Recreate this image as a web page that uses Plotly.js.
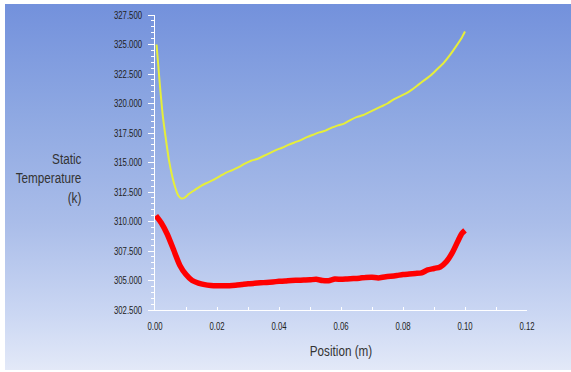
<!DOCTYPE html>
<html>
<head>
<meta charset="utf-8">
<script src="https://cdn.plot.ly/plotly-3.0.1.min.js"></script>
<style>
  html, body { margin: 0; padding: 0; background: #ffffff; }
  #wrap { position: relative; width: 571px; height: 372px; overflow: hidden; background: #ffffff; }
  #bg {
    position: absolute; left: 5px; top: 4px; width: 566px; height: 366px;
    background: linear-gradient(to bottom, #7391dc 0%, #8ea8e2 30%, #aabde9 60%, #cbd7f3 85%, #e3e9f8 100%);
  }
  #chart { position: absolute; left: 0; top: 0; width: 571px; height: 372px; }
</style>
</head>
<body>
<div id="wrap">
  <div id="bg"></div>
  <div id="chart"></div>
</div>
<script>
// Static temperature along the channel, two monitored lines
const positionUpper = [0.0005, 0.0015, 0.0025, 0.0035, 0.0045, 0.0055, 0.0065, 0.0075, 0.0085, 0.0095,
  0.011, 0.013, 0.015, 0.017, 0.019, 0.021, 0.023, 0.025, 0.027, 0.029,
  0.031, 0.033, 0.035, 0.037, 0.039, 0.041, 0.043, 0.045, 0.047, 0.049,
  0.051, 0.053, 0.055, 0.057, 0.059, 0.061, 0.063, 0.065, 0.067, 0.069,
  0.071, 0.073, 0.075, 0.077, 0.079, 0.081, 0.083, 0.085, 0.087, 0.089,
  0.091, 0.093, 0.095, 0.097, 0.099, 0.100];
const tempUpper = [325.0, 321.8, 319.0, 317.0, 315.2, 313.9, 312.9, 312.2, 311.95, 312.0,
  312.35, 312.7, 313.05, 313.3, 313.55, 313.85, 314.15, 314.35, 314.6, 314.9,
  315.15, 315.3, 315.55, 315.8, 316.05, 316.25, 316.5, 316.7, 316.9, 317.15,
  317.35, 317.55, 317.7, 317.95, 318.15, 318.3, 318.6, 318.85, 319.0, 319.25,
  319.5, 319.75, 320.0, 320.35, 320.6, 320.85, 321.2, 321.6, 322.0, 322.4,
  322.9, 323.4, 324.05, 324.8, 325.6, 326.1];

const positionLower = [0.0003, 0.002, 0.004, 0.006, 0.008, 0.010, 0.012, 0.014, 0.016, 0.018,
  0.020, 0.022, 0.024, 0.026, 0.028, 0.030, 0.032, 0.034, 0.036, 0.038,
  0.040, 0.042, 0.044, 0.046, 0.048, 0.050, 0.052, 0.054, 0.056, 0.058,
  0.060, 0.062, 0.064, 0.066, 0.068, 0.070, 0.072, 0.074, 0.076, 0.078,
  0.080, 0.082, 0.084, 0.086, 0.088, 0.090, 0.092, 0.094, 0.096, 0.098,
  0.099, 0.100];
const tempLower = [310.5, 309.9, 308.9, 307.6, 306.3, 305.5, 305.0, 304.78, 304.65, 304.58,
  304.55, 304.55, 304.56, 304.6, 304.66, 304.72, 304.76, 304.8, 304.84, 304.88,
  304.93, 304.96, 305.0, 305.02, 305.04, 305.06, 305.1, 305.0, 304.98, 305.12,
  305.1, 305.13, 305.16, 305.2, 305.26, 305.28, 305.22, 305.3, 305.36, 305.42,
  305.5, 305.55, 305.6, 305.65, 305.9, 306.02, 306.15, 306.6, 307.4, 308.5,
  309.0, 309.25];

const xTicks = [0, 0.02, 0.04, 0.06, 0.08, 0.10, 0.12];
const xTickText = ['0.00', '0.02', '0.04', '0.06', '0.08', '0.10', '0.12'];
const yTicks = [302.5, 305, 307.5, 310, 312.5, 315, 317.5, 320, 322.5, 325, 327.5];
const yTickText = ['302.500', '305.000', '307.500', '310.000', '312.500', '315.000',
  '317.500', '320.000', '322.500', '325.000', '327.500'];

const face = '"Liberation Sans", Arial, sans-serif';

const traces = [
  {
    x: positionUpper, y: tempUpper, type: 'scatter', mode: 'lines',
    line: { color: '#e6ee3a', width: 2, shape: 'spline', smoothing: 0.6 },
    hoverinfo: 'skip', showlegend: false
  },
  {
    x: positionLower, y: tempLower, type: 'scatter', mode: 'lines',
    line: { color: '#ff0000', width: 5.5, shape: 'spline', smoothing: 0.6 },
    hoverinfo: 'skip', showlegend: false
  }
];

const layout = {
  width: 571, height: 372,
  margin: { l: 155, r: 44, t: 15, b: 62, pad: 0 },
  paper_bgcolor: 'rgba(0,0,0,0)',
  plot_bgcolor: 'rgba(0,0,0,0)',
  font: { family: face, color: '#222222' },
  showlegend: false,
  xaxis: {
    range: [0, 0.12], tickvals: xTicks, ticktext: xTickText,
    showgrid: false, zeroline: false,
    showline: true, linecolor: '#ffffff', linewidth: 1,
    ticks: 'inside', ticklen: 3, tickwidth: 1, tickcolor: '#ffffff',
    minor: { tickvals: [0.01, 0.03, 0.05, 0.07, 0.09, 0.11], ticks: 'inside', ticklen: 3, tickcolor: '#ffffff', showgrid: false },
    tickfont: { family: face, size: 10, color: '#222222' },
    ticklabelstandoff: 7,
    title: { text: 'Position (m)', font: { family: face, size: 15, color: '#333333' }, standoff: 14 }
  },
  yaxis: {
    range: [302.5, 327.5], tickvals: yTicks, ticktext: yTickText,
    showgrid: false, zeroline: false,
    showline: true, linecolor: '#ffffff', linewidth: 1,
    ticks: 'outside', ticklen: 6, tickwidth: 1, tickcolor: '#ffffff',
    minor: { dtick: 0.5, ticks: 'outside', ticklen: 3, tickcolor: '#ffffff', showgrid: false },
    tickfont: { family: face, size: 10, color: '#222222' },
    ticklabelstandoff: 4
  },
  annotations: [
    {
      text: 'Static<br>Temperature<br>(k)',
      xref: 'paper', yref: 'paper',
      x: -0.19, y: 0.447, xanchor: 'right', yanchor: 'middle',
      align: 'right', showarrow: false,
      font: { family: face, size: 15, color: '#333333' }
    }
  ]
};

// Narrow the lettering horizontally, pivoting on each text's anchor edge
function condenseText(root, factor) {
  root.querySelectorAll('text').forEach(function (t) {
    const box = t.getBBox();
    if (!box.width) return;
    const anchor = t.getAttribute('text-anchor') || t.style.textAnchor || 'start';
    let px = box.x;
    if (anchor === 'end') px = box.x + box.width;
    else if (anchor === 'middle') px = box.x + box.width / 2;
    const prev = t.getAttribute('transform') || '';
    t.setAttribute('transform', prev + ' translate(' + px + ',0) scale(' + factor + ',1) translate(' + (-px) + ',0)');
  });
}

Plotly.newPlot('chart', traces, layout, { staticPlot: true, displayModeBar: false }).then(function (gd) {
  condenseText(gd, 0.78);
});
</script>
</body>
</html>
